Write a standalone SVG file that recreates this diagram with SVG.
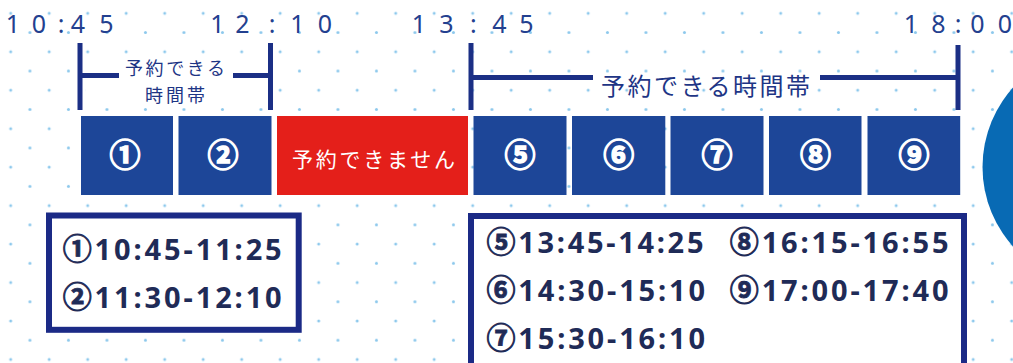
<svg xmlns="http://www.w3.org/2000/svg" width="1013" height="363" viewBox="0 0 1013 363">
<defs>
<pattern id="dots" x="10.7" y="13.3" width="38.5" height="38.46" patternUnits="userSpaceOnUse">
<circle cx="0" cy="0" r="1.5"/><circle cx="38.5" cy="0" r="1.5"/><circle cx="0" cy="38.46" r="1.5"/><circle cx="38.5" cy="38.46" r="1.5"/><circle cx="19.25" cy="19.23" r="1.5"/>
</pattern>
<style>
#dots circle{fill:#8cc8ec}
.time{font-family:"Noto Sans","Liberation Sans",sans-serif;font-size:25px;font-weight:normal;fill:#23408f;text-anchor:middle}
.br{stroke:#1b2f85;stroke-width:5;fill:none}
.jp{font-family:"Noto Sans CJK JP",sans-serif;fill:#1e3585}
.slot{fill:#1d4698}
.num{font-family:"Noto Sans CJK JP",sans-serif;font-weight:bold;font-size:31px;fill:#fff;stroke:#fff;stroke-width:1.4;text-anchor:middle}
.list{fill:#fff;stroke:#1b2a86;stroke-width:6}
.lt{font-family:"Noto Sans","Noto Sans CJK JP",sans-serif;font-weight:bold;font-size:29px;fill:#1f2b57}
.c{stroke:#1f2b57;stroke-width:0.9}
</style>
</defs>
<rect width="1013" height="363" fill="#fff"/>
<rect width="1013" height="363" fill="url(#dots)"/>
<circle cx="1101.5" cy="167" r="119" fill="#086ab4"/>

<g id="times">
<text class="time" x="13 39 61 78 106.5" y="33">10:45</text>
<text class="time" x="217.5 242.5 272 297.5 325" y="33">12:10</text>
<text class="time" x="419 446.5 473.3 499.5 526.5" y="33">13:45</text>
<text class="time" x="911 938.5 958 977.5 1005" y="33">18:00</text>
</g>

<g id="bracket-left">
<rect x="86" y="58" width="178" height="50" fill="#fff"/>
<path class="br" d="M80 43V110M80 75.5H119M233 75.5H270.5M270.5 43V110"/>
<text class="jp" x="125" y="75" font-size="18" textLength="100" lengthAdjust="spacing">予約できる</text>
<text class="jp" x="145" y="101.5" font-size="18" textLength="60" lengthAdjust="spacing">時間帯</text>
</g>

<g id="bracket-right">
<path class="br" d="M471 43V110M471 77.5H593M820 77.5H958M958 45V110"/>
<text class="jp" x="601" y="95" font-size="24" textLength="209" lengthAdjust="spacing">予約できる時間帯</text>
</g>

<g id="slot1"><rect class="slot" x="81" y="116" width="92" height="79"/><text class="num" x="125" y="166">①</text></g>
<g id="slot2"><rect class="slot" x="178.5" y="116" width="93" height="79"/><text class="num" x="223" y="166">②</text></g>
<g id="slot-closed"><rect x="277" y="116" width="191" height="79" fill="#e41f1a"/><text class="jp" x="292" y="167" font-size="21" style="fill:#fff" textLength="163" lengthAdjust="spacing">予約できません</text></g>
<g id="slot5"><rect class="slot" x="473.5" y="116" width="93" height="79"/><text class="num" x="520" y="166">⑤</text></g>
<g id="slot6"><rect class="slot" x="572" y="116" width="93.3" height="79"/><text class="num" x="618.7" y="166">⑥</text></g>
<g id="slot7"><rect class="slot" x="670.5" y="116" width="93" height="79"/><text class="num" x="717" y="166">⑦</text></g>
<g id="slot8"><rect class="slot" x="769" y="116" width="92.5" height="79"/><text class="num" x="815.5" y="166">⑧</text></g>
<g id="slot9"><rect class="slot" x="867.5" y="116" width="92.7" height="79"/><text class="num" x="914" y="166">⑨</text></g>

<g id="list-left">
<rect class="list" x="49" y="215.5" width="249.7" height="114.3"/>
<text class="lt" x="62.7" y="259.5" textLength="219" lengthAdjust="spacing"><tspan class="c">①</tspan>10:45-11:25</text>
<text class="lt" x="62.7" y="307.5" textLength="219" lengthAdjust="spacing"><tspan class="c">②</tspan>11:30-12:10</text>
</g>

<g id="list-right">
<rect class="list" x="471" y="216" width="493" height="160"/>
<text class="lt" x="486.5" y="253" textLength="217" lengthAdjust="spacing"><tspan class="c">⑤</tspan>13:45-14:25</text>
<text class="lt" x="729.8" y="253" textLength="218.7" lengthAdjust="spacing"><tspan class="c">⑧</tspan>16:15-16:55</text>
<text class="lt" x="486.5" y="300.5" textLength="218.5" lengthAdjust="spacing"><tspan class="c">⑥</tspan>14:30-15:10</text>
<text class="lt" x="729.8" y="300.5" textLength="218.7" lengthAdjust="spacing"><tspan class="c">⑨</tspan>17:00-17:40</text>
<text class="lt" x="486.5" y="348.5" textLength="218.5" lengthAdjust="spacing"><tspan class="c">⑦</tspan>15:30-16:10</text>
</g>
</svg>
